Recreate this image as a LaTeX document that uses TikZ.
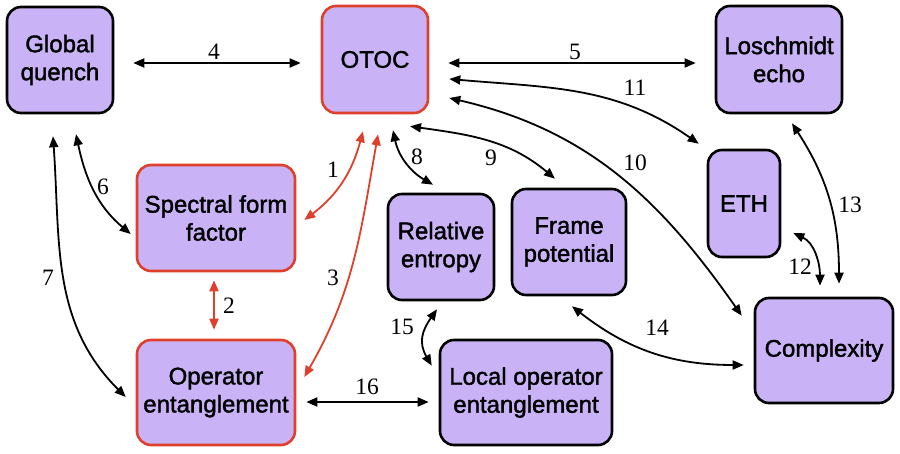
\documentclass[tikz,border=0pt]{standalone}
\usepackage{fontspec}
\setmainfont{Liberation Serif}
\newfontfamily\boxfont{Liberation Sans}[FakeBold=1.6]
\usetikzlibrary{arrows.meta}
\definecolor{boxfill}{RGB}{201,179,246}
\definecolor{keyred}{RGB}{222,64,43}
\begin{document}
\begin{tikzpicture}[x=1pt,y=1pt,
  box/.style={rectangle, rounded corners=14pt, draw=black, line width=2.6pt,
    fill=boxfill, align=center, inner sep=0pt,
    font=\boxfont\fontsize{24}{28}\selectfont},
  redbox/.style={box, draw=keyred, line width=2.6pt},
  link/.style={line width=1.8pt,
    {Triangle[length=11pt,width=9pt]}-{Triangle[length=11pt,width=9pt]}},
  redlink/.style={link, color=keyred},
  num/.style={font=\fontsize{23.5}{23.5}\selectfont, inner sep=0pt}]
\useasboundingbox (0,0) rectangle (900,453);

% boxes
\node[box, minimum width=106pt, minimum height=106pt] (gq) at (60,393) {Global\\quench};
\node[redbox, minimum width=106pt, minimum height=107pt] (otoc) at (375,393.5) {OTOC};
\node[box, minimum width=126pt, minimum height=107pt] (le) at (779,393.5) {Loschmidt\\echo};
\node[redbox, minimum width=158pt, minimum height=106pt] (sff) at (216,235) {Spectral form\\factor};
\node[box, minimum width=72pt, minimum height=107pt] (eth) at (744,249.5) {ETH};
\node[box, minimum width=106pt, minimum height=106pt] (re) at (441,206) {Relative\\entropy};
\node[box, minimum width=114pt, minimum height=106pt] (fp) at (569,211) {Frame\\potential};
\node[box, minimum width=138pt, minimum height=105pt] (cx) at (824,102.5) {Complexity};
\node[redbox, minimum width=158pt, minimum height=105pt] (oe) at (216,60.5) {Operator\\entanglement};
\node[box, minimum width=172pt, minimum height=105pt] (loe) at (526,60.5) {Local operator\\entanglement};

% red links
\draw[redlink] ([xshift=-12pt,yshift=-17pt]otoc.south) to[out=-105,in=37] ([xshift=8pt,yshift=-2pt]sff.east);
\draw[redlink] ([xshift=-2pt,yshift=-8pt]sff.south) -- ([xshift=-2pt,yshift=9pt]oe.north);
\draw[redlink] ([xshift=3pt,yshift=-20pt]otoc.south) to[out=-100,in=60] ([xshift=8pt,yshift=15.5pt]oe.east);

% black links
\draw[link] ([xshift=19pt,yshift=-3pt]gq.east) -- ([xshift=-20pt,yshift=-3.5pt]otoc.west);
\draw[link] ([xshift=19pt,yshift=-3.5pt]otoc.east) -- ([xshift=-19pt,yshift=-3.5pt]le.west);
\draw[link] ([xshift=16pt,yshift=-20pt]gq.south) to[out=-78,in=140] ([xshift=-5pt,yshift=-16pt]sff.west);
\draw[link] ([xshift=-7pt,yshift=-22pt]gq.south) to[out=-86,in=135] ([xshift=-10pt,yshift=-4.5pt]oe.west);
\draw[link] ([xshift=18pt,yshift=-16pt]otoc.south) to[out=-78,in=150] ([xshift=-8pt,yshift=8pt]re.north);
\draw[link] ([xshift=35pt,yshift=-12pt]otoc.south) to[out=-8,in=140] ([xshift=-14pt,yshift=9pt]fp.north);
\draw[link] ([xshift=20pt,yshift=-38.5pt]otoc.east) to[out=-13,in=125] ([xshift=-12pt,yshift=-19pt]cx.north west);
\draw[link] ([xshift=20pt,yshift=-19.5pt]otoc.east) to[out=-5,in=145] ([xshift=-8pt,yshift=5pt]eth.north west);
\draw[link] ([xshift=12pt,yshift=-29.5pt]eth.east) to[out=-25,in=90] ([xshift=-4pt,yshift=11pt]cx.north);
\draw[link] ([xshift=13pt,yshift=-9pt]le.south) to[out=-57,in=90] ([xshift=15pt,yshift=13pt]cx.north);
\draw[link] ([xshift=3pt,yshift=-10pt]fp.south) to[out=-38,in=180] ([xshift=-10pt,yshift=-14.5pt]cx.west);
\draw[link] ([xshift=-4pt,yshift=-8pt]re.south) to[out=-125,in=120,looseness=1.2] ([xshift=-7pt,yshift=-27pt]loe.north west);
\draw[link] ([xshift=10pt,yshift=-9.5pt]oe.east) -- ([xshift=-10pt,yshift=-9.5pt]loe.west);

% link numbers
\node[num] (n1) at (333,283) {1};
\node[num] (n2) at (229,147) {2};
\node[num] (n3) at (333,175) {3};
\node[num] (n4) at (214,401) {4};
\node[num] (n5) at (575,401) {5};
\node[num] (n6) at (103,266) {6};
\node[num] (n7) at (48,175) {7};
\node[num] (n8) at (417,296) {8};
\node[num] (n9) at (491,295) {9};
\node[num] (n10) at (635,290) {10};
\node[num] (n11) at (635,365) {11};
\node[num] (n12) at (800,186) {12};
\node[num] (n13) at (850,248) {13};
\node[num] (n14) at (657,125) {14};
\node[num] (n15) at (402,126) {15};
\node[num] (n16) at (367,66) {16};
\end{tikzpicture}
\end{document}
